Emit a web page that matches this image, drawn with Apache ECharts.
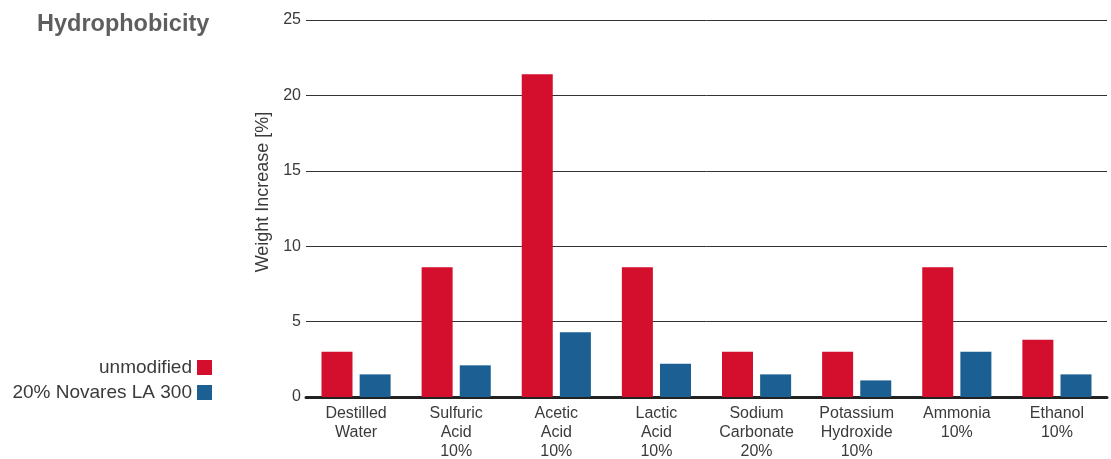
<!DOCTYPE html>
<html>
<head>
<meta charset="utf-8">
<script src="https://cdn.jsdelivr.net/npm/echarts@6/dist/echarts.min.js"></script>
<style>
  html, body { margin: 0; padding: 0; background: #fff; }
  #chart { width: 1111px; height: 459px; }
</style>
</head>
<body>
<div id="chart"></div>
<script>
// categories and values
var categories = [
    'Destilled\nWater',
    'Sulfuric\nAcid\n10%',
    'Acetic\nAcid\n10%',
    'Lactic\nAcid\n10%',
    'Sodium\nCarbonate\n20%',
    'Potassium\nHydroxide\n10%',
    'Ammonia\n10%',
    'Ethanol\n10%'
];
var unmodified = [3.0, 8.6, 21.4, 8.6, 3.0, 3.0, 8.6, 3.8];
var novares = [1.5, 2.1, 4.3, 2.2, 1.5, 1.1, 3.0, 1.5];
var seriesNames = ['unmodified', '20% Novares LA 300'];

var font = '"Liberation Sans", Arial, sans-serif';
var textColor = '#3a3a3a';
var myChart = echarts.init(document.getElementById('chart'));

var option = {
    animation: false,
    title: {
        text: 'Hydrophobicity',
        left: 32,
        top: 8,
        textStyle: {
            fontFamily: font,
            fontSize: 23.5,
            fontWeight: 'bold',
            color: '#5e5e5e'
        }
    },
    legend: {
        orient: 'vertical',
        right: 894,
        top: 353,
        align: 'right',
        itemWidth: 15,
        itemHeight: 15,
        itemGap: 6,
        icon: 'rect',
        data: seriesNames,
        textStyle: {
            fontFamily: font,
            fontSize: 19,
            color: textColor
        }
    },
    grid: {
        left: 306,
        right: 4,
        top: 20,
        bottom: 62,
        outerBoundsMode: 'none'
    },
    xAxis: {
        type: 'category',
        data: categories,
        axisTick: { show: false },
        axisLine: { lineStyle: { color: '#222', width: 3 } },
        axisLabel: {
            interval: 0,
            margin: 7,
            fontFamily: font,
            fontSize: 16,
            lineHeight: 19,
            color: textColor
        }
    },
    yAxis: {
        type: 'value',
        min: 0,
        max: 25,
        interval: 5,
        name: 'Weight Increase [%]',
        nameLocation: 'middle',
        nameGap: 34,
        nameTextStyle: {
            fontFamily: font,
            fontSize: 18,
            color: textColor,
            padding: [0, 0, 0, 33]
        },
        axisLine: { show: false },
        axisTick: { show: false },
        axisLabel: {
            margin: 5,
            fontFamily: font,
            fontSize: 16,
            color: textColor
        },
        splitLine: { lineStyle: { color: '#333', width: 1 } }
    },
    series: [
        {
            name: seriesNames[0],
            type: 'bar',
            data: unmodified,
            barWidth: 31,
            barGap: '23%',
            itemStyle: { color: '#d40e2d' }
        },
        {
            name: seriesNames[1],
            type: 'bar',
            data: novares,
            barWidth: 31,
            itemStyle: { color: '#1c6093' }
        }
    ]
};

myChart.setOption(option);
</script>
</body>
</html>
